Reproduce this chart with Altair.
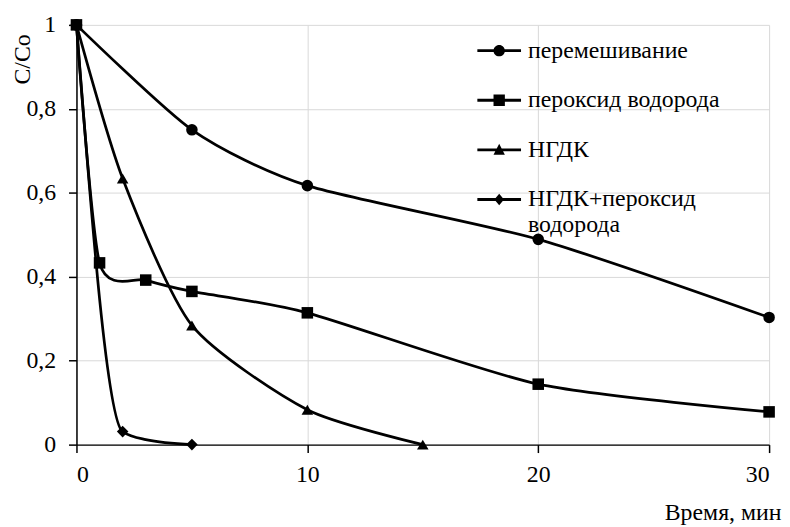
import altair as alt
import pandas as pd

series = ["перемешивание", "пероксид водорода", "НГДК", "НГДК+пероксид водорода"]

t_mix = [0, 5, 10, 20, 30]
c_mix = [1.0, 0.75, 0.617, 0.489, 0.303]

t_per = [0, 1, 3, 5, 10, 20, 30]
c_per = [1.0, 0.433, 0.392, 0.365, 0.314, 0.144, 0.078]

t_ngdk = [0, 2, 5, 10, 15]
c_ngdk = [1.0, 0.634, 0.284, 0.083, 0.0]

t_both = [0, 2, 3, 5]
c_both = [1.0, 0.031, 0.012, 0.0]
m_both = [True, True, False, True]

rows = []
for name, ts, cs, ms in [
    (series[0], t_mix, c_mix, [True] * len(t_mix)),
    (series[1], t_per, c_per, [True] * len(t_per)),
    (series[2], t_ngdk, c_ngdk, [True] * len(t_ngdk)),
    (series[3], t_both, c_both, m_both),
]:
    for t, c, m in zip(ts, cs, ms):
        rows.append({"series": name, "t": t, "c": c, "marker": m})
df = pd.DataFrame(rows)

FONT = "Liberation Serif"
FS = 24

axis_style = dict(
    labelFont=FONT, labelFontSize=FS, labelColor="black",
    titleFont=FONT, titleFontSize=FS, titleColor="black", titleFontWeight="normal",
    domainColor="black", domainWidth=1.5, tickColor="black", tickWidth=1.5, tickSize=8,
    gridColor="#d9d9d9", gridWidth=1,
)

x_enc = alt.X("t:Q", scale=alt.Scale(domain=[0, 30], nice=False),
              axis=alt.Axis(values=[0, 10, 20, 30], title="Время, мин", labelPadding=10,
                            titleAnchor="end", titleAlign="right", titleX=710, titleY=68,
                            titleBaseline="middle", **axis_style))
y_enc = alt.Y("c:Q", scale=alt.Scale(domain=[0, 1], nice=False),
              axis=alt.Axis(values=[0, 0.2, 0.4, 0.6, 0.8, 1.0], title="C/Co", labelPadding=13,
                            labelExpr="replace(format(datum.value, '.1~f'), '.', ',')",
                            titleAngle=-90, titleAlign="right", titleBaseline="middle",
                            titleX=-54, titleY=9, **axis_style))

base = alt.Chart(df)

lines_smooth = base.transform_filter(
    alt.datum.series != series[3]
).mark_line(interpolate="cardinal", tension=0.3, color="black", strokeWidth=2.75).encode(
    x=x_enc, y=y_enc, detail="series:N"
)
lines_mono = base.transform_filter(
    alt.datum.series == series[3]
).mark_line(interpolate="monotone", color="black", strokeWidth=2.75).encode(
    x=x_enc, y=y_enc, detail="series:N"
)

points = base.transform_filter(alt.datum.marker).mark_point(
    filled=True, color="black", opacity=1, size=135
).encode(
    x=x_enc, y=y_enc,
    shape=alt.Shape("series:N", scale=alt.Scale(domain=series,
                    range=["circle", "square", "triangle-up", "diamond"]), legend=None),
)

r = 0.26
w = 0.065
bar = f"M-1,{-w}L1,{-w}L1,{w}L-1,{w}Z"
paths = [
    f"{bar}M{r},0A{r},{r},0,1,1,{-r},0A{r},{r},0,1,1,{r},0Z",
    f"{bar}M{-r},{-r}L{r},{-r}L{r},{r}L{-r},{r}Z",
    f"{bar}M0,{-r*1.1}L{r},{r*0.85}L{-r},{r*0.85}Z",
    f"{bar}M0,{-r}L{r*0.85},0L0,{r}L{-r*0.85},0Z",
]

legend_layer = base.transform_filter("false").mark_point(
    filled=True, color="black", size=1936, opacity=1
).encode(
    x=x_enc, y=y_enc,
    shape=alt.Shape("series:N", scale=alt.Scale(domain=series, range=paths),
                    legend=alt.Legend(
                        title=None, orient="none", legendX=403, legendY=3,
                        symbolSize=1936, symbolFillColor="black",
                        symbolOpacity=1, padding=0, rowPadding=15,
                        labelOffset=6,
                        labelFont=FONT, labelFontSize=FS, labelColor="black", labelLimit=400,
                        labelExpr="datum.label == 'НГДК+пероксид водорода' ? ['НГДК+пероксид', 'водорода'] : datum.label",
                    )),
)

chart = alt.layer(lines_smooth, lines_mono, points, legend_layer).resolve_scale(
    shape="independent"
).properties(
    width=698, height=423,
    padding={"left": 69, "top": 15, "right": 13, "bottom": 80},
    autosize=alt.AutoSizeParams(type="none"),
).configure_view(stroke=None)

chart.save("out.html", embed_options={"renderer": "svg", "actions": False})
